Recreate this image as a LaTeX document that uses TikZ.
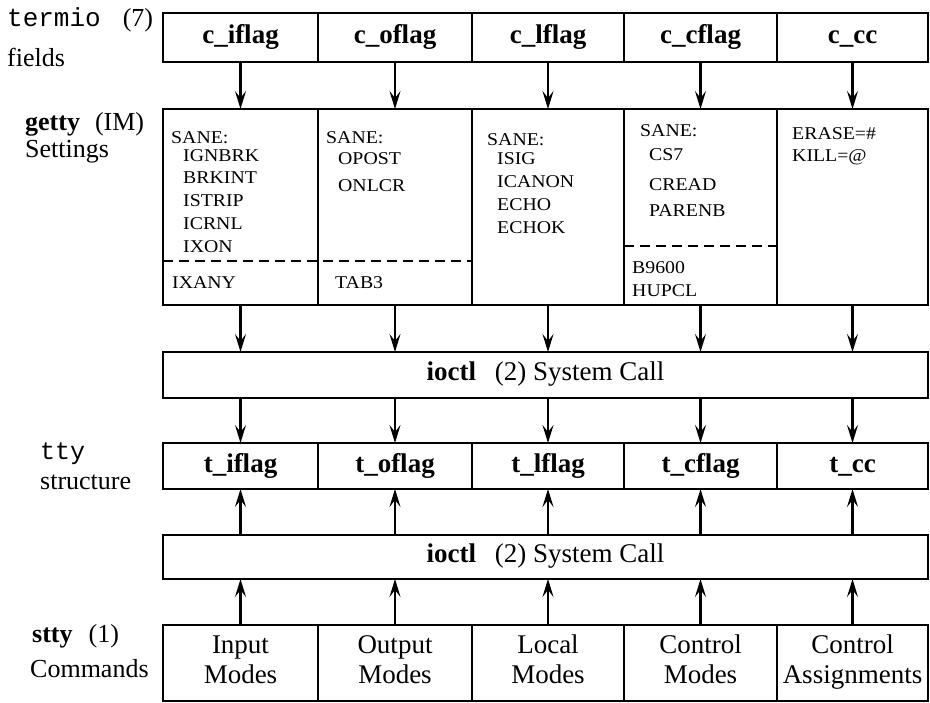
\documentclass[tikz,border=0pt]{standalone}
\usepackage{fontspec}
\setmainfont{Liberation Serif}
\setmonofont{Liberation Mono}
\newfontfamily\sanefont[FakeStretch=1.1]{Liberation Serif}
\usetikzlibrary{arrows.meta}
\begin{document}
\begin{tikzpicture}[x=1bp,y=-1bp,
  box/.style={draw, line width=2.7bp, inner sep=0pt, outer sep=0pt},
  bl/.style={box, text height=19bp, text depth=6bp, font=\fontsize{27bp}{30bp}\selectfont\bfseries},
  rl/.style={box, align=center, text depth=7bp, font=\fontsize{27bp}{30bp}\selectfont},
  arr/.style={line width=2.1bp, -{Stealth[length=18bp,width=11bp,inset=7bp]}},
  sane/.style={anchor=base west, inner sep=0pt, font=\fontsize{18bp}{20bp}\sanefont},
  side/.style={anchor=base west, inner sep=0pt, font=\fontsize{26bp}{30bp}\selectfont},
  sep/.style={line width=2.6bp, dash pattern=on 10bp off 6bp},
  wA/.style={minimum width=155bp}, wB/.style={minimum width=154bp},
  wC/.style={minimum width=152bp}, wD/.style={minimum width=153bp},
  wE/.style={minimum width=151bp}
]
\useasboundingbox (0,0) rectangle (930,703);

% termio fields
\node[bl, wA, minimum height=49bp] (c1) at (240.5,37.5) {c\_iflag};
\node[bl, wB, minimum height=49bp] (c2) at (395,37.5) {c\_oflag};
\node[bl, wC, minimum height=49bp] (c3) at (548,37.5) {c\_lflag};
\node[bl, wD, minimum height=49bp] (c4) at (700.5,37.5) {c\_cflag};
\node[bl, wE, minimum height=49bp] (c5) at (852.5,37.5) {c\_cc};

% getty settings
\node[box, wA, minimum height=196bp] (g1) at (240.5,207) {};
\node[box, wB, minimum height=196bp] (g2) at (395,207) {};
\node[box, wC, minimum height=196bp] (g3) at (548,207) {};
\node[box, wD, minimum height=196bp] (g4) at (700.5,207) {};
\node[box, wE, minimum height=196bp] (g5) at (852.5,207) {};
\draw[sep] (g1.west |- 0,261) -- (g2.east |- 0,261);
\draw[sep] (g4.west |- 0,246) -- (g4.east |- 0,246);

\node[sane] (s1) at (171,144) {SANE:};
\node[sane] (s1a) at (183,162) {IGNBRK};
\node[sane] (s1b) at (183,184) {BRKINT};
\node[sane] (s1c) at (183,206.5) {ISTRIP};
\node[sane] (s1d) at (183,229.5) {ICRNL};
\node[sane] (s1e) at (183,252) {IXON};
\node[sane] (s1f) at (172,288.5) {IXANY};

\node[sane] (s2) at (326,144) {SANE:};
\node[sane] (s2a) at (338,165) {OPOST};
\node[sane] (s2b) at (338,191) {ONLCR};
\node[sane] (s2c) at (335,288.5) {TAB3};

\node[sane] (s3) at (487,146) {SANE:};
\node[sane] (s3a) at (497,165) {ISIG};
\node[sane] (s3b) at (497,187) {ICANON};
\node[sane] (s3c) at (497,210) {ECHO};
\node[sane] (s3d) at (497,233) {ECHOK};

\node[sane] (s4) at (640,137) {SANE:};
\node[sane] (s4a) at (649,161) {CS7};
\node[sane] (s4b) at (649,190) {CREAD};
\node[sane] (s4c) at (649,216) {PARENB};
\node[sane] (s4d) at (632,273) {B9600};
\node[sane] (s4e) at (632,296) {HUPCL};

\node[sane] (s5a) at (792,140) {ERASE=\#};
\node[sane] (s5b) at (792,162) {KILL=@};

% ioctl boxes
\node[rl, minimum width=765bp, minimum height=46bp] (io1) at (545.5,375) {\textbf{ioctl}\hspace{12bp} (2) System Call};
\node[rl, minimum width=765bp, minimum height=44bp] (io2) at (545.5,557) {\textbf{ioctl}\hspace{12bp} (2) System Call};

% tty structure
\node[bl, wA, minimum height=46bp] (t1) at (240.5,466) {t\_iflag};
\node[bl, wB, minimum height=46bp] (t2) at (395,466) {t\_oflag};
\node[bl, wC, minimum height=46bp] (t3) at (548,466) {t\_lflag};
\node[bl, wD, minimum height=46bp] (t4) at (700.5,466) {t\_cflag};
\node[bl, wE, minimum height=46bp] (t5) at (852.5,466) {t\_cc};

% stty commands
\node[rl, wA, minimum height=76bp] (b1) at (240.5,663) {Input\\Modes};
\node[rl, wB, minimum height=76bp] (b2) at (395,663) {Output\\Modes};
\node[rl, wC, minimum height=76bp] (b3) at (548,663) {Local\\Modes};
\node[rl, wD, minimum height=76bp] (b4) at (700.5,663) {Control\\Modes};
\node[rl, wE, minimum height=76bp] (b5) at (852.5,663) {Control\\Assignments};

% connectors
\foreach \i in {1,...,5} {
  \draw[arr] (c\i.south) -- (g\i.north);
  \draw[arr] (g\i.south) -- (io1.north -| g\i.south);
  \draw[arr] (io1.south -| t\i.north) -- (t\i.north);
  \draw[arr] (io2.north -| t\i.south) -- (t\i.south);
  \draw[arr] (b\i.north) -- (io2.south -| b\i.north);
}

% side labels
\node[side] (lt) at (7,27) {{\fontsize{26bp}{30bp}\ttfamily termio}\hspace{22bp}(7)};
\node[side] (lf) at (7,67) {fields};
\node[side] (lg) at (25,131) {\textbf{getty}\hspace{15bp}(IM)};
\node[side] (ls) at (25,158) {Settings};
\node[side] (ly) at (40,459) {\fontsize{25bp}{30bp}\ttfamily tty};
\node[side] (lu) at (40,489) {structure};
\node[side] (lc) at (32,642) {\textbf{stty}\hspace{16bp}(1)};
\node[side] (lm) at (30,677) {Commands};
\end{tikzpicture}
\end{document}
